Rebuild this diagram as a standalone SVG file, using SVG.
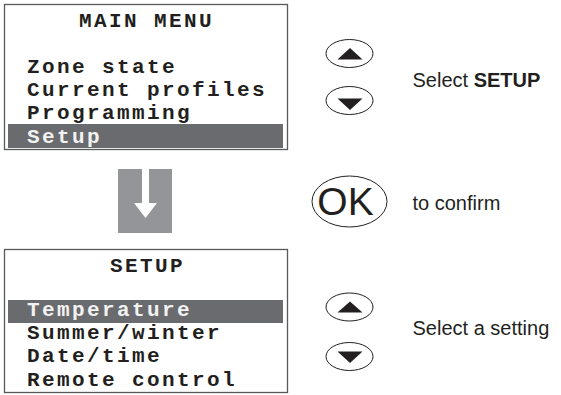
<svg xmlns="http://www.w3.org/2000/svg" width="561" height="395" viewBox="0 0 561 395">
<style>
.box{fill:#fff;stroke:#58595b;stroke-width:1.3}
.bar{fill:#6a6b6e}
.mono{font-family:"Liberation Mono","Courier New",monospace;font-weight:bold;font-size:21px;letter-spacing:2.4px;fill:#231f20}
.inv{fill:#f2f2f2}
.btn{fill:#fff;stroke:#231f20;stroke-width:1}
.tri{fill:#231f20}
.lbl{font-family:"Liberation Sans",Arial,sans-serif;font-size:20px;fill:#231f20}
</style>
<g id="main-menu">
<rect class="box" x="4.5" y="4.5" width="283" height="145"/>
<rect class="bar" x="8" y="124" width="275" height="24"/>
<text class="mono" x="146.5" y="27" text-anchor="middle">MAIN MENU</text>
<text class="mono" x="27" y="73">Zone state</text>
<text class="mono" x="27" y="96">Current profiles</text>
<text class="mono" x="27" y="119">Programming</text>
<text class="mono inv" x="27" y="142.5">Setup</text>
</g>
<g id="setup-menu">
<rect class="box" x="4.5" y="249.5" width="283" height="143"/>
<rect class="bar" x="8" y="300" width="275" height="23"/>
<text class="mono" x="147.5" y="272" text-anchor="middle">SETUP</text>
<text class="mono inv" x="27" y="316">Temperature</text>
<text class="mono" x="27" y="339">Summer/winter</text>
<text class="mono" x="27" y="362">Date/time</text>
<text class="mono" x="27" y="385.5">Remote control</text>
</g>
<g id="connectors">
<g id="down-arrow">
<rect x="118" y="169" width="54" height="64" fill="#939598"/>
<polygon points="142,169 149,169 149,203 157,203 145.5,218 134,203 142,203" fill="#fff"/>
</g>
</g>
<g id="nav-buttons-1">
<ellipse class="btn" cx="349.5" cy="53.5" rx="23.5" ry="14"/>
<polygon class="tri" points="337.5,59.5 362.5,59.5 350,48"/>
<ellipse class="btn" cx="349.5" cy="100.5" rx="23.5" ry="14"/>
<polygon class="tri" points="337.5,98.5 362.5,98.5 350,110"/>
</g>
<g id="label-1"><text class="lbl" x="412.5" y="87">Select <tspan font-weight="bold">SETUP</tspan></text></g>
<g id="ok-button">
<ellipse class="btn" cx="349.5" cy="201.5" rx="37.5" ry="25.5"/>
<text x="345.5" y="215" text-anchor="middle" font-family="'Liberation Sans',Arial,sans-serif" font-size="39" fill="#231f20">OK</text>
</g>
<g id="label-2"><text class="lbl" x="412.5" y="210">to confirm</text></g>
<g id="nav-buttons-2">
<ellipse class="btn" cx="349.5" cy="307" rx="23.5" ry="14"/>
<polygon class="tri" points="337.5,312.5 362.5,312.5 350,301.5"/>
<ellipse class="btn" cx="349.5" cy="356.5" rx="23.5" ry="14"/>
<polygon class="tri" points="337.5,351.5 362.5,351.5 350,363"/>
</g>
<g id="label-3"><text class="lbl" x="412.5" y="335">Select a setting</text></g>
</svg>
